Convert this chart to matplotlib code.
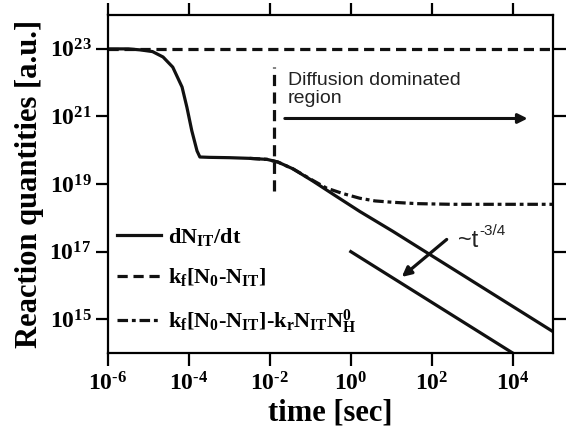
import numpy as np
import matplotlib
matplotlib.use("Agg")
import matplotlib.pyplot as plt

plt.rcParams['font.family'] = ['Liberation Serif', 'DejaVu Serif']
plt.rcParams['font.weight'] = 'bold'
plt.rcParams['mathtext.fontset'] = 'custom'
plt.rcParams['mathtext.rm'] = 'Liberation Serif:bold'
plt.rcParams['mathtext.bf'] = 'Liberation Serif:bold'
plt.rcParams['mathtext.it'] = 'Liberation Serif:bold'
plt.rcParams['mathtext.sf'] = 'Liberation Sans'

# dN_IT/dt (log10 of time, log10 of value)
rate_t = [-6, -5.5, -5.2, -4.9, -4.64, -4.4, -4.17, -4.05, -3.93, -3.8, -3.73,
          -3.5, -3.0, -2.5, -2.07, -1.8, -1.43, -0.94, -0.44, 0.22, 1.04, 3.0, 5.0]
rate_y = [23.0, 23.0, 22.97, 22.92, 22.76, 22.46, 21.87, 21.27, 20.58, 19.98, 19.80,
          19.79, 19.78, 19.76, 19.73, 19.65, 19.45, 19.09, 18.70, 18.19, 17.60, 16.13, 14.63]

# kf[N0-NIT]
forward_t = [-6, 5]
forward_y = [23.0, 23.0]

# kf[N0-NIT]-kr NIT NH0
net_t = [-2.5, -2.07, -1.8, -1.43, -1.2, -1.0, -0.6, -0.2, 0.22, 0.6, 1.04, 1.63, 2.5, 5.0]
net_y = [19.76, 19.73, 19.65, 19.45, 19.29, 19.15, 18.88, 18.72, 18.58, 18.50, 18.46, 18.42, 18.40, 18.40]

# reference power law ~t^-3/4
slope_t = [0, 4]
slope_y = [17.0, 14.0]

# boundary of the diffusion dominated region
bound_t = [-1.9, -1.9]
bound_y = [18.79, 22.46]

xticks = [-6, -4, -2, 0, 2, 4]
yticks = [15, 17, 19, 21, 23]

p = lambda v: 10.0 ** np.array(v)
hy = r'\text{-}'


def power_label(v):
    s = str(v).replace('-', hy)
    return r'$\mathbf{10^{%s}}$' % s


fig = plt.figure(figsize=(5.67, 4.44), dpi=100)
ax = fig.add_axes([0.1905, 0.205, 0.785, 0.761])

lw = 2.3
ax.plot(p(rate_t), p(rate_y), color='#111111', lw=lw, label=r'$\mathbf{dN_{IT}/dt}$')
ax.plot(p(forward_t), p(forward_y), color='#111111', lw=lw, dashes=(3.2, 1.8),
        label=r'$\mathbf{k_f[N_0%sN_{IT}]}$' % hy)
ax.plot(p(net_t), p(net_y), color='#111111', lw=lw, dashes=(3.3, 1.2, 1.2, 1.2),
        label=r'$\mathbf{k_f[N_0%sN_{IT}]%sk_r N_{IT} N_H^0}$' % (hy, hy))
ax.plot(p(slope_t), p(slope_y), color='#111111', lw=lw)
ax.plot(p(bound_t), p(bound_y), color='#111111', lw=lw, dashes=(3.5, 2.0))

# region arrow and label
ax.annotate('', xy=(10 ** 4.37, 10 ** 20.94), xytext=(10 ** -1.63, 10 ** 20.94),
            arrowprops=dict(arrowstyle='-|>', color='#111111', lw=2.2,
                            mutation_scale=14, shrinkA=0, shrinkB=0))
ax.text(10 ** -1.55, 10 ** 22.32, 'Diffusion dominated\nregion', family='Liberation Sans',
        weight='normal', fontsize=14, color='#222222', va='top', linespacing=1.12)

# slope arrow
ax.annotate('', xy=(10 ** 1.26, 10 ** 16.25), xytext=(10 ** 2.37, 10 ** 17.36),
            arrowprops=dict(arrowstyle='-|>', color='#111111', lw=2.3,
                            mutation_scale=14, shrinkA=0, shrinkB=0))
ax.text(10 ** 2.64, 10 ** 17.15, '~t', family='Liberation Sans', weight='normal',
        fontsize=17, color='#222222', va='baseline')
ax.text(10 ** 3.19, 10 ** 17.5, '-3/4', family='Liberation Sans', weight='normal',
        fontsize=11, color='#222222', va='baseline')

ax.set_xscale('log')
ax.set_yscale('log')
ax.set_xlim(1e-6, 1e5)
ax.set_ylim(1e14, 1e24)
ax.set_xticks(p(xticks))
ax.set_xticklabels([power_label(v) for v in xticks])
ax.set_yticks(p(yticks))
ax.set_yticklabels([power_label(v) for v in yticks])
ax.minorticks_off()
ax.tick_params(direction='out', length=9, width=1.6, labelsize=17,
               top=True, right=True, labeltop=False, labelright=False)
ax.tick_params(axis='x', pad=5)
ax.tick_params(axis='y', pad=3)
for s in ax.spines.values():
    s.set_linewidth(1.6)

ax.set_xlabel('time [sec]', fontsize=22, fontweight='bold', labelpad=2)
ax.set_ylabel('Reaction quantities [a.u.]', fontsize=22, fontweight='bold', labelpad=4)

ax.legend(loc='upper left', bbox_to_anchor=(0.02, 0.377), frameon=False, fontsize=16,
          handlelength=2.0, handletextpad=0.3, labelspacing=0.85, borderpad=0,
          borderaxespad=0)

fig.savefig('out.png', dpi=100)
